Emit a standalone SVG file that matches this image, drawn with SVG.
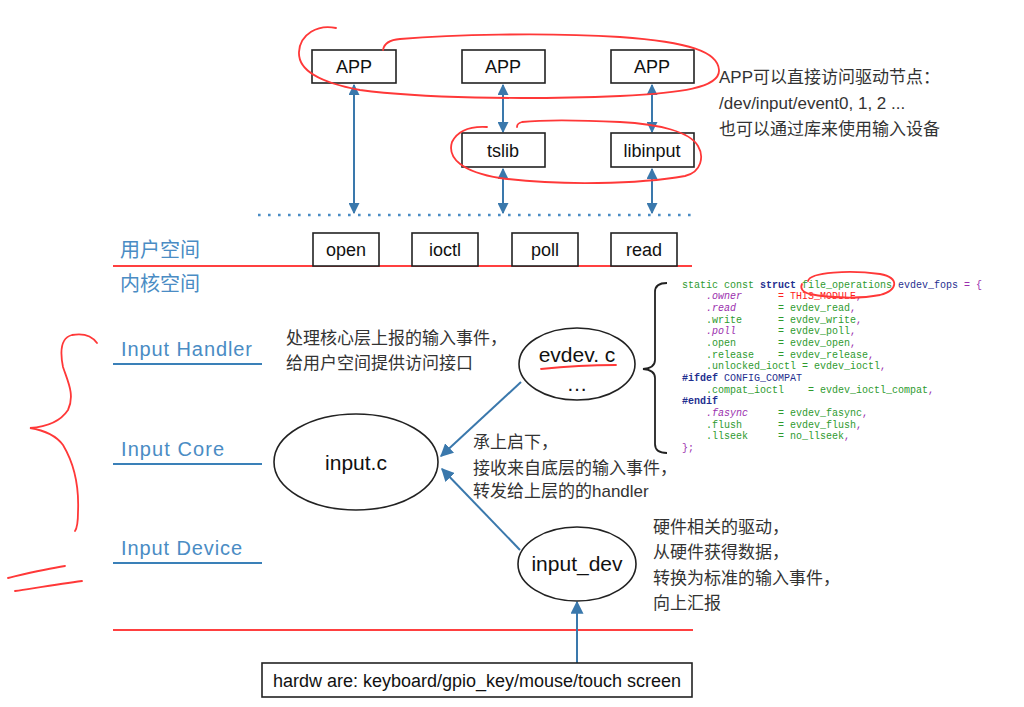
<svg xmlns="http://www.w3.org/2000/svg" width="1024" height="707" viewBox="0 0 1024 707">
<defs>
<marker id="ah" viewBox="0 0 10 10" refX="9" refY="5" markerWidth="11" markerHeight="11" markerUnits="userSpaceOnUse" orient="auto-start-reverse"><path d="M0 0 L10 5 L0 10 Z" fill="#3a78ac"/></marker>
<marker id="ah2" viewBox="0 0 10 10" refX="9" refY="5" markerWidth="13" markerHeight="13" markerUnits="userSpaceOnUse" orient="auto-start-reverse"><path d="M0 0 L10 5 L0 10 Z" fill="#3a78ac"/></marker>
</defs>
<style>
.box{fill:#fff;stroke:#222;stroke-width:1.6}
.bt{font-family:"Liberation Sans",Arial,sans-serif;font-size:18px;fill:#111;text-anchor:middle}
.ell{fill:#fff;stroke:#222;stroke-width:1.6}
.et{font-family:"Liberation Sans",Arial,sans-serif;font-size:21px;fill:#111;text-anchor:middle}
.conn{stroke:#3a78ac;stroke-width:2;fill:none}
.lbl{font-family:"Liberation Sans",Arial,sans-serif;font-size:20px;fill:#4a8cc4}
.cjkl{font-family:"Noto Sans CJK SC","Liberation Sans",sans-serif;font-size:20px;fill:#4a8cc4}
.uline{stroke:#3a80b8;stroke-width:2}
.note{font-family:"Liberation Sans","Noto Sans CJK SC",sans-serif;font-size:17px;fill:#333}
.red{stroke:#ff3838;stroke-width:1.8;fill:none;stroke-linecap:round}
.code{font-family:"Liberation Mono","DejaVu Sans Mono",monospace;font-size:10px;white-space:pre;fill:#2e9a2e}
.pu{fill:#9b2fae}
.pi{fill:#9b2fae;font-style:italic}
.nv{fill:#1f2f8f}
.nb{fill:#1f2f8f;font-weight:bold}
.rd{fill:#ff2020}
</style>

<!-- layer lines -->
<g id="layers">
<line x1="258" y1="215" x2="692" y2="215" stroke="#4a8cc4" stroke-width="2.6" stroke-dasharray="2.6 7.4"/>
<line x1="113" y1="266" x2="692" y2="266" stroke="#ff4040" stroke-width="1.8"/>
<line x1="113" y1="630" x2="693" y2="630" stroke="#ff4040" stroke-width="1.8"/>
<text class="cjkl" x="120" y="257">用户空间</text>
<text class="cjkl" x="120" y="291">内核空间</text>
<text class="lbl" x="121" y="356" textLength="131" lengthAdjust="spacing">Input  Handler</text>
<line class="uline" x1="113" y1="364" x2="262" y2="364"/>
<text class="lbl" x="121" y="456" textLength="103" lengthAdjust="spacing">Input  Core</text>
<line class="uline" x1="113" y1="464" x2="262" y2="464"/>
<text class="lbl" x="121" y="555" textLength="121" lengthAdjust="spacing">Input  Device</text>
<line class="uline" x1="113" y1="563" x2="262" y2="563"/>
</g>

<!-- connectors -->
<g id="connectors">
<line class="conn" x1="354" y1="85" x2="354" y2="213" marker-start="url(#ah)" marker-end="url(#ah)"/>
<line class="conn" x1="503" y1="85" x2="503" y2="132" marker-start="url(#ah)" marker-end="url(#ah)"/>
<line class="conn" x1="503" y1="169" x2="503" y2="213" marker-start="url(#ah)" marker-end="url(#ah)"/>
<line class="conn" x1="652" y1="85" x2="652" y2="132" marker-start="url(#ah)" marker-end="url(#ah)"/>
<line class="conn" x1="652" y1="169" x2="652" y2="213" marker-start="url(#ah)" marker-end="url(#ah)"/>
<line class="conn" x1="521" y1="382" x2="441" y2="456" marker-end="url(#ah2)"/>
<line class="conn" x1="520" y1="550" x2="442" y2="469" marker-end="url(#ah2)"/>
<line class="conn" x1="577" y1="663" x2="577" y2="602" marker-end="url(#ah2)"/>
</g>

<g id="app1"><rect class="box" x="312" y="50" width="84" height="33"/><text class="bt" x="354" y="73">APP</text></g>
<g id="app2"><rect class="box" x="462" y="50" width="83" height="33"/><text class="bt" x="503" y="73">APP</text></g>
<g id="app3"><rect class="box" x="611" y="50" width="83" height="33"/><text class="bt" x="652" y="73">APP</text></g>
<g id="tslib"><rect class="box" x="462" y="133" width="83" height="34"/><text class="bt" x="503" y="157">tslib</text></g>
<g id="libinput"><rect class="box" x="611" y="133" width="83" height="34"/><text class="bt" x="652" y="157">libinput</text></g>

<g id="open"><rect class="box" x="313" y="233" width="66" height="33"/><text class="bt" x="346" y="256">open</text></g>
<g id="ioctl"><rect class="box" x="412" y="233" width="66" height="33"/><text class="bt" x="445" y="256">ioctl</text></g>
<g id="poll"><rect class="box" x="512" y="233" width="66" height="33"/><text class="bt" x="545" y="256">poll</text></g>
<g id="read"><rect class="box" x="611" y="233" width="66" height="33"/><text class="bt" x="644" y="256">read</text></g>

<g id="evdev"><ellipse class="ell" cx="577" cy="364" rx="58" ry="36"/><text class="et" x="577" y="362" font-size="20">evdev. c</text><text class="et" x="577" y="391" font-size="18">…</text></g>
<g id="inputc"><ellipse class="ell" cx="356" cy="462" rx="82" ry="48"/><text class="et" x="356" y="470">input.c</text></g>
<g id="inputdev"><ellipse class="ell" cx="577" cy="564" rx="59" ry="37"/><text class="et" x="577" y="571" font-size="20">input_dev</text></g>
<g id="hardware"><rect class="box" x="262" y="663" width="430" height="34"/><text class="bt" x="477" y="687" font-size="17.5">hardw are: keyboard/gpio_key/mouse/touch screen</text></g>

<!-- notes -->
<g id="notes">
<text class="note" x="719" y="83">APP可以直接访问驱动节点：</text>
<text class="note" x="719" y="109">/dev/input/event0, 1, 2 ...</text>
<text class="note" x="719" y="135">也可以通过库来使用输入设备</text>
<text class="note" x="286" y="344">处理核心层上报的输入事件，</text>
<text class="note" x="286" y="369">给用户空间提供访问接口</text>
<text class="note" x="473" y="448">承上启下，</text>
<text class="note" x="473" y="474">接收来自底层的输入事件，</text>
<text class="note" x="473" y="497">转发给上层的的handler</text>
<text class="note" x="653" y="533">硬件相关的驱动，</text>
<text class="note" x="653" y="558">从硬件获得数据，</text>
<text class="note" x="653" y="584">转换为标准的输入事件，</text>
<text class="note" x="653" y="609">向上汇报</text>
</g>

<!-- code -->
<g id="code">
<path d="M667 283 Q655 283 655 292 L655 360 Q655 368 643 369 Q655 370 655 378 L655 444 Q655 453 667 453" fill="none" stroke="#222" stroke-width="1.8"/>
<text class="code" x="682" y="287.5">static const <tspan class="nb">struct</tspan> file_operations <tspan class="nv">evdev_fops</tspan><tspan class="pu"> = {</tspan></text>
<text class="code" x="682" y="299">    <tspan class="pi">.owner</tspan>      <tspan class="rd">= THIS_MODULE</tspan><tspan class="pu">,</tspan></text>
<text class="code" x="682" y="311">    <tspan class="pi">.read</tspan>       = evdev_read<tspan class="pu">,</tspan></text>
<text class="code" x="682" y="322.5">    .write      = evdev_write<tspan class="pu">,</tspan></text>
<text class="code" x="682" y="334">    <tspan class="pi">.poll</tspan>       = evdev_poll<tspan class="pu">,</tspan></text>
<text class="code" x="682" y="346">    .open       = evdev_open<tspan class="pu">,</tspan></text>
<text class="code" x="682" y="357.5">    .release    = evdev_release<tspan class="pu">,</tspan></text>
<text class="code" x="682" y="369">    .unlocked_ioctl = evdev_ioctl<tspan class="pu">,</tspan></text>
<text class="code" x="682" y="381"><tspan class="nb">#ifdef</tspan><tspan class="nv"> CONFIG_COMPAT</tspan></text>
<text class="code" x="682" y="392.5">    .compat_ioctl    = evdev_ioctl_compat<tspan class="pu">,</tspan></text>
<text class="code" x="682" y="404"><tspan class="nb">#endif</tspan></text>
<text class="code" x="682" y="416">    <tspan class="pi">.fasync</tspan>     = evdev_fasync<tspan class="pu">,</tspan></text>
<text class="code" x="682" y="427.5">    .flush      = evdev_flush<tspan class="pu">,</tspan></text>
<text class="code" x="682" y="439">    .llseek     = no_llseek<tspan class="pu">,</tspan></text>
<text class="code" x="682" y="451"><tspan class="pu">};</tspan></text>
</g>

<!-- red hand annotations -->
<g id="annotations">
<path class="red" d="M336 28 C318 24 300 34 299 52 C298 70 318 82 360 90 C420 98 520 100 620 96 C680 93 720 88 719 70 C718 52 690 42 620 37 C540 32 450 35 400 39 C388 40 384 44 383 50"/>
<path class="red" d="M487 127 C470 126 458 130 452 142 C447 158 462 172 500 178 C560 186 640 184 685 176 C702 172 704 156 698 146 C690 132 660 124 620 122 C580 120 540 120 522 122 C518 123 517 125 517 127"/>
<path class="red" d="M808 281 C810 272 850 270 880 274 C900 278 898 290 880 295 C860 299 830 298 810 294 C802 292 800 288 802 284"/>
<path class="red" d="M541 369 C560 367 590 365 616 365"/>
<path class="red" d="M97 343 C92 336 83 333 72 335 C60 338 60 352 63 367 C68 382 75 395 68 410 C60 422 45 427 30 428 C42 430 55 434 63 445 C75 465 79 490 78 512 C78 522 77 528 75 531"/>
<path class="red" d="M8 578 C25 574 45 569 65 566"/>
<path class="red" d="M15 591 C35 588 60 584 82 581"/>
</g>
</svg>
